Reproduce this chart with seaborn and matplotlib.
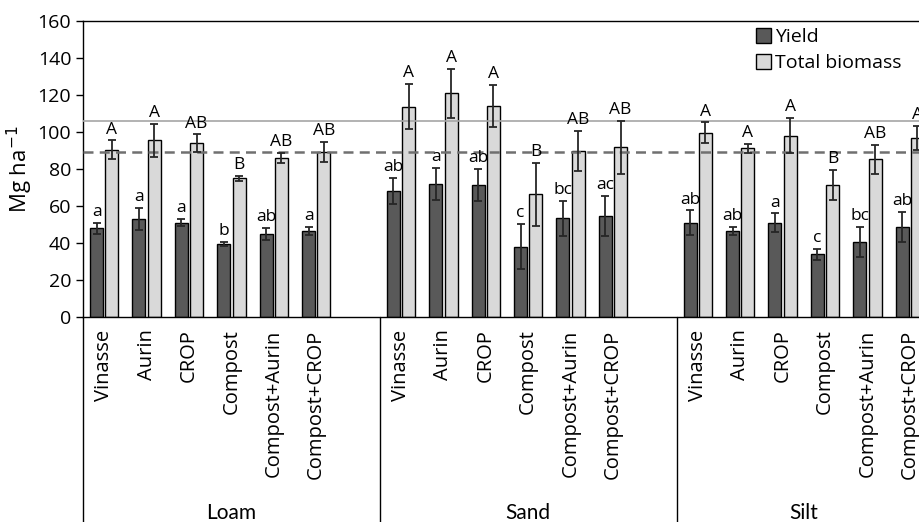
import numpy as np
import pandas as pd
import seaborn as sns
import matplotlib.pyplot as plt
import matplotlib.transforms as mtransforms

# Dados
soils = ["Loam", "Sand", "Silt"]
treatments = ["Vinasse", "Aurin", "CROP", "Compost", "Compost+Aurin", "Compost+CROP"]
series = ["Yield", "Total biomass"]

loam_yield = [48, 53, 51, 39.5, 45, 46.5]
loam_yield_sd = [3, 6, 2, 1, 3.2, 2.3]
loam_biomass = [90.5, 95.5, 94, 75, 86, 89.3]
loam_biomass_sd = [5, 9, 4.7, 1.3, 2.7, 5.3]
loam_yield_letters = ["a", "a", "a", "b", "ab", "a"]
loam_biomass_letters = ["A", "A", "AB", "B", "AB", "AB"]

sand_yield = [68, 72, 71.4, 38, 53.4, 54.7]
sand_yield_sd = [7, 8.5, 8.7, 12.3, 9.5, 10.7]
sand_biomass = [113.6, 121, 114, 66.4, 89.7, 91.7]
sand_biomass_sd = [12.2, 13.3, 11.5, 17, 11, 14.4]
sand_yield_letters = ["ab", "a", "ab", "c", "bc", "ac"]
sand_biomass_letters = ["A", "A", "A", "B", "AB", "AB"]

silt_yield = [51, 46.5, 51, 34, 40.5, 48.8]
silt_yield_sd = [6.6, 2, 5, 3, 8, 8]
silt_biomass = [99.6, 91.2, 98, 71.4, 85.2, 97]
silt_biomass_sd = [5.6, 2.5, 9.5, 8, 8, 6.5]
silt_yield_letters = ["ab", "ab", "a", "c", "bc", "ab"]
silt_biomass_letters = ["A", "A", "A", "B", "AB", "A"]

ref_solid = 105.8
ref_dashed = 89

# Montar tabela longa
rows = []
blocks = {
    "Loam": (loam_yield, loam_yield_sd, loam_yield_letters, loam_biomass, loam_biomass_sd, loam_biomass_letters),
    "Sand": (sand_yield, sand_yield_sd, sand_yield_letters, sand_biomass, sand_biomass_sd, sand_biomass_letters),
    "Silt": (silt_yield, silt_yield_sd, silt_yield_letters, silt_biomass, silt_biomass_sd, silt_biomass_letters),
}
for soil in soils:
    y, ysd, ylet, b, bsd, blet = blocks[soil]
    for i, t in enumerate(treatments):
        rows.append([f"{soil}|{t}", "Yield", y[i], ysd[i], ylet[i]])
        rows.append([f"{soil}|{t}", "Total biomass", b[i], bsd[i], blet[i]])
df = pd.DataFrame(rows, columns=["slot", "series", "value", "sd", "letter"])

# ordem das categorias com espaço vazio entre os solos
order = []
for k, soil in enumerate(soils):
    order += [f"{soil}|{t}" for t in treatments]
    if k < len(soils) - 1:
        order.append(f"{soil}|gap")

sns.set_theme(style="white")
plt.rcParams['font.family'] = ['Open Sans', 'DejaVu Sans']
plt.rcParams['text.color'] = 'black'
plt.rcParams['axes.labelcolor'] = 'black'
plt.rcParams['xtick.color'] = 'black'
plt.rcParams['ytick.color'] = 'black'

fig = plt.figure(figsize=(9.2, 5.22), dpi=100)
ax = fig.add_axes([83 / 920, (522 - 317) / 522, 848 / 920, 296 / 522])

sns.barplot(data=df, x="slot", y="value", hue="series", order=order, hue_order=series,
            palette={"Yield": "#595959", "Total biomass": "#d9d9d9"},
            edgecolor="black", linewidth=1, width=0.72, gap=0.15,
            errorbar=None, ax=ax)

# barras de erro e letras
lookup = df.set_index(["slot", "series"])
for bar in ax.patches:
    h = bar.get_height()
    if not np.isfinite(h) or h == 0:
        continue
    xc = bar.get_x() + bar.get_width() / 2
    idx = int(round(xc))
    s = "Yield" if xc < idx else "Total biomass"
    rec = lookup.loc[(order[idx], s)]
    ax.errorbar(xc, rec["value"], yerr=rec["sd"], color="#262626", lw=1.3,
                capsize=3, capthick=1.3, zorder=5)
    ax.annotate(rec["letter"], (xc, rec["value"] + rec["sd"]), xytext=(0, 2),
                textcoords="offset points", ha="center", va="bottom",
                fontsize=12.5, color="black", zorder=6)

ax.axhline(ref_solid, color="#a6a6a6", lw=1.2, zorder=4)
ax.axhline(ref_dashed, color="#707070", lw=1.8, ls=(0, (4, 2.5)), zorder=4)

ax.set_xlim(-0.5, len(order) - 0.5)
ax.set_ylim(0, 160)
ax.set_yticks(np.arange(0, 161, 20))
ax.tick_params(axis="y", labelsize=14, length=5, width=1, color="black", direction="out", left=True)
ax.set_xticks(range(len(order)))
ax.set_xticklabels([o.split("|")[1] if not o.endswith("gap") else "" for o in order],
                   rotation=90, fontsize=14.5, va="top")
ax.tick_params(axis="x", length=0, pad=9)
ax.set_xlabel("")
ax.set_ylabel("Mg ha$^{-1}$", fontsize=16, labelpad=2)
for sp in ax.spines.values():
    sp.set_visible(True)
    sp.set_color("black")
    sp.set_linewidth(1)

# linhas de separação dos grupos abaixo do eixo
trans = mtransforms.blended_transform_factory(ax.transData, ax.transAxes)
bottom = -(522 - 317) / 296
for xs in [-0.5, 6.5, 13.5]:
    ax.plot([xs, xs], [0, bottom], color="black", lw=1, transform=trans, clip_on=False)
for soil, xc in zip(soils, [3.0, 10.0, 16.5]):
    ax.text(xc, -0.662, soil, transform=trans, ha="center", va="center",
            fontsize=15, family=["Lato", "DejaVu Sans"])

handles, labels = ax.get_legend_handles_labels()
ax.legend(handles, labels, loc="upper left", bbox_to_anchor=(0.7936, 0.975),
          frameon=False, fontsize=14, handlelength=0.75, handleheight=0.75,
          handletextpad=0.25, labelspacing=0.4, borderpad=0, borderaxespad=0)

plt.savefig("out.png", dpi=100)
